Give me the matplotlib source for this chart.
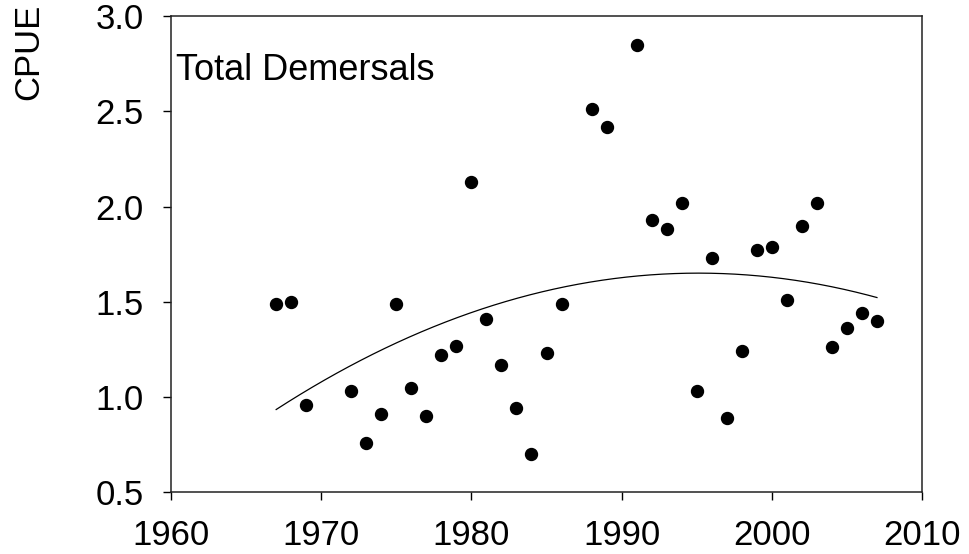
import numpy as np
import matplotlib
matplotlib.use("Agg")
from matplotlib import pyplot as plt

plt.rcParams['font.family'] = ['Liberation Sans', 'DejaVu Sans']

# anos con dato (faltan 1970, 1971, 1987, 1990)
years = [1967, 1968, 1969, 1972, 1973, 1974, 1975, 1976, 1977, 1978,
         1979, 1980, 1981, 1982, 1983, 1984, 1985, 1986, 1988, 1989,
         1991, 1992, 1993, 1994, 1995, 1996, 1997, 1998, 1999, 2000,
         2001, 2002, 2003, 2004, 2005, 2006, 2007]
cpue = [1.49, 1.50, 0.96, 1.03, 0.76, 0.91, 1.49, 1.05, 0.90, 1.22,
        1.27, 2.13, 1.41, 1.17, 0.94, 0.70, 1.23, 1.49, 2.51, 2.42,
        2.85, 1.93, 1.88, 2.02, 1.03, 1.73, 0.89, 1.24, 1.77, 1.79,
        1.51, 1.90, 2.02, 1.26, 1.36, 1.44, 1.40]

xticks = [1960, 1970, 1980, 1990, 2000, 2010]
yticks = [0.5, 1.0, 1.5, 2.0, 2.5, 3.0]

fig = plt.figure(figsize=(9.69, 5.54), dpi=100)
ax = fig.add_axes([0.1765, 0.1114, 0.775, 0.8597])

ax.plot(years, cpue, 'o', color='black', ms=8.6, mec='black')

# ajuste cuadratico
coef = np.polyfit(years, cpue, 2)
xs = np.linspace(min(years), max(years), 200)
ax.plot(xs, np.polyval(coef, xs), color='black', lw=0.9)

ax.set_xlim(1960, 2010)
ax.set_ylim(0.5, 3.0)
ax.set_xticks(xticks)
ax.set_yticks(yticks)
ax.set_yticklabels(['%.1f' % v for v in yticks])
ax.tick_params(direction='out', length=5.5, width=1, labelsize=25,
               top=False, right=False)
ax.tick_params(axis='x', pad=14)
ax.tick_params(axis='y', pad=14)
for s in ax.spines.values():
    s.set_linewidth(1.1)
    s.set_color('#222222')

ax.text(0.006, 0.8656, 'Total Demersals', transform=ax.transAxes,
        fontsize=26, ha='left', va='baseline')

fig.text(28.5 / 969, 1 - 100 / 554, 'CPUE', rotation=90,
         ha='center', va='bottom', fontsize=25)

fig.savefig('out.png', dpi=100)
